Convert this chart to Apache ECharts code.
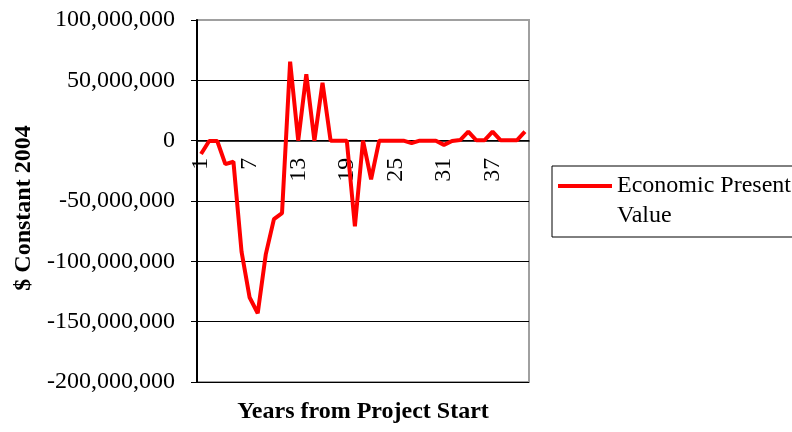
<!DOCTYPE html>
<html>
<head>
<meta charset="utf-8">
<script src="https://cdn.jsdelivr.net/npm/echarts@6/dist/echarts.min.js"></script>
<style>
  html, body { margin: 0; padding: 0; background: #fff; }
  #chart { width: 792px; height: 432px; }
</style>
</head>
<body>
<div id="chart"></div>
<script>
// years from project start
const years = ['1','2','3','4','5','6','7','8','9','10','11','12','13','14','15','16','17','18','19','20',
  '21','22','23','24','25','26','27','28','29','30','31','32','33','34','35','36','37','38','39','40','41']
// economic present value, $ constant 2004
const presentValue = [
  -11000000, -300000, -300000, -19500000, -17500000, -92000000, -130000000, -143000000, -94000000, -65000000,
  -60000000, 65500000, 0, 55000000, 0, 48000000, 0, 0, 0, -71000000,
  0, -32000000, 0, 0, 0, 0, -2000000, 0, 0, 0,
  -3500000, -300000, 500000, 7500000, 300000, 300000, 7500000, 300000, 300000, 300000,
  7500000
]
const yMin = -200000000
const yMax = 100000000
const yStep = 50000000

const serif = 'Liberation Serif'
const gridHeight = 362
// the category axis sits on the zero line, labels included
const zeroOffset = -gridHeight * (0 - yMin) / (yMax - yMin)

const chartDom = document.getElementById('chart')
const myChart = echarts.init(chartDom, null, { renderer: 'canvas' })

const option = {
  animation: false,
  backgroundColor: '#fff',
  grid: {
    left: 197,
    top: 20,
    width: 332,
    height: gridHeight,
    show: true,
    borderColor: '#a0a0a0',
    borderWidth: 2,
    outerBoundsMode: 'none'
  },
  legend: {
    orient: 'vertical',
    left: 558,
    top: 141,
    padding: 0,
    itemWidth: 54,
    itemHeight: 4,
    icon: 'rect',
    data: ['Economic Present Value'],
    formatter: () => '\nEconomic Present\nValue',
    textStyle: {
      fontFamily: serif,
      fontSize: 24,
      color: '#000',
      lineHeight: 30
    }
  },
  xAxis: {
    type: 'category',
    data: years,
    boundaryGap: true,
    offset: zeroOffset,
    axisLine: { onZero: false, lineStyle: { color: '#000', width: 1.5 } },
    axisTick: { interval: 0, length: 5, lineStyle: { color: '#000', width: 1 } },
    axisLabel: {
      interval: 5,
      rotate: 90,
      margin: 17,
      fontFamily: serif,
      fontSize: 24,
      color: '#000'
    },
    splitLine: { show: false }
  },
  yAxis: {
    type: 'value',
    min: yMin,
    max: yMax,
    interval: yStep,
    axisLine: { show: true, lineStyle: { color: '#000', width: 2 } },
    axisTick: { show: true, length: 6, lineStyle: { color: '#000' } },
    axisLabel: {
      margin: 22,
      fontFamily: serif,
      fontSize: 24,
      color: '#000',
      formatter: v => v.toLocaleString('en-US')
    },
    splitLine: { showMaxLine: false, lineStyle: { color: '#000', width: 1 } }
  },
  graphic: [
    {
      type: 'rect',
      shape: { x: 552, y: 166, width: 260, height: 71 },
      style: { fill: 'none', stroke: '#000', lineWidth: 1 }
    },
    {
      type: 'text',
      x: 24,
      y: 208,
      rotation: Math.PI / 2,
      style: {
        text: '$ Constant 2004',
        font: 'bold 24px "Liberation Serif"',
        fill: '#000',
        align: 'center',
        verticalAlign: 'middle'
      }
    },
    {
      type: 'text',
      x: 363,
      y: 412,
      style: {
        text: 'Years from Project Start',
        font: 'bold 24px "Liberation Serif"',
        fill: '#000',
        align: 'center',
        verticalAlign: 'middle'
      }
    }
  ],
  series: [
    {
      name: 'Economic Present Value',
      type: 'line',
      symbol: 'none',
      data: presentValue,
      itemStyle: { color: '#ff0000' },
      lineStyle: { color: '#ff0000', width: 4 }
    }
  ]
}

option && myChart.setOption(option)
</script>
</body>
</html>
